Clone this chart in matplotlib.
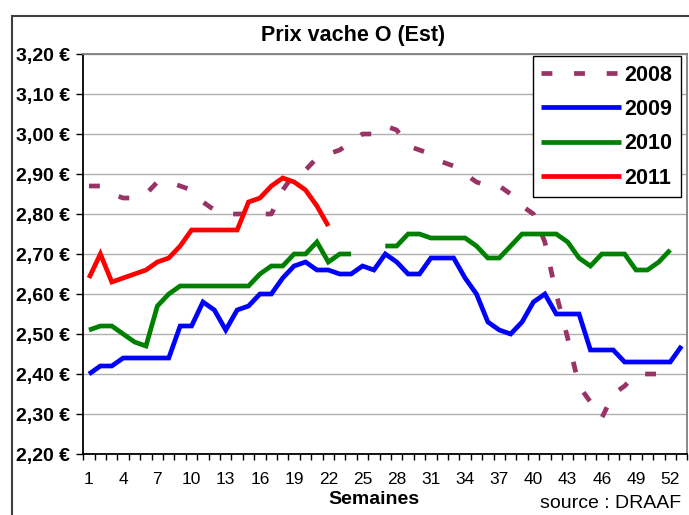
import numpy as np
import matplotlib
matplotlib.use("Agg")
import matplotlib.pyplot as plt
from matplotlib.ticker import FuncFormatter
from matplotlib.patches import Rectangle

plt.rcParams['font.family'] = ['Liberation Sans', 'DejaVu Sans']

nan = np.nan

# Prix hebdomadaires (EUR/kg), semaines 1..53
prix_2008 = [2.87, 2.87, 2.85, 2.84, 2.84, 2.85, 2.88, 2.88, 2.87, 2.86,
             2.83, 2.81, 2.80, 2.80, 2.80, 2.80, 2.80, 2.86, 2.90, 2.91,
             2.94, 2.95, 2.96, 2.98, 3.00, 3.00, 3.02, 3.01, 2.97, 2.96,
             2.95, 2.93, 2.92, 2.90, 2.88, 2.87, 2.87, 2.85, 2.82, 2.80,
             2.73, 2.60, 2.49, 2.37, 2.33, 2.29, 2.35, 2.37, 2.40, 2.40,
             2.40]
prix_2009 = [2.40, 2.42, 2.42, 2.44, 2.44, 2.44, 2.44, 2.44, 2.52, 2.52,
             2.58, 2.56, 2.51, 2.56, 2.57, 2.60, 2.60, 2.64, 2.67, 2.68,
             2.66, 2.66, 2.65, 2.65, 2.67, 2.66, 2.70, 2.68, 2.65, 2.65,
             2.69, 2.69, 2.69, 2.64, 2.60, 2.53, 2.51, 2.50, 2.53, 2.58,
             2.60, 2.55, 2.55, 2.55, 2.46, 2.46, 2.46, 2.43, 2.43, 2.43,
             2.43, 2.43, 2.47]
prix_2010 = [2.51, 2.52, 2.52, 2.50, 2.48, 2.47, 2.57, 2.60, 2.62, 2.62,
             2.62, 2.62, 2.62, 2.62, 2.62, 2.65, 2.67, 2.67, 2.70, 2.70,
             2.73, 2.68, 2.70, 2.70, nan, nan, 2.72, 2.72, 2.75, 2.75,
             2.74, 2.74, 2.74, 2.74, 2.72, 2.69, 2.69, 2.72, 2.75, 2.75,
             2.75, 2.75, 2.73, 2.69, 2.67, 2.70, 2.70, 2.70, 2.66, 2.66,
             2.68, 2.71]
prix_2011 = [2.64, 2.70, 2.63, 2.64, 2.65, 2.66, 2.68, 2.69, 2.72, 2.76,
             2.76, 2.76, 2.76, 2.76, 2.83, 2.84, 2.87, 2.89, 2.88, 2.86,
             2.82, 2.77]

annees = ['2008', '2009', '2010', '2011']
couleurs = ['#993366', '#0000ff', '#008000', '#ff0000']
tick_semaines = list(range(1, 53, 3))
y_ticks = [2.2, 2.3, 2.4, 2.5, 2.6, 2.7, 2.8, 2.9, 3.0, 3.1, 3.2]

W, H = 689, 515
fig = plt.figure(figsize=(W / 100, H / 100), dpi=100)
ax = fig.add_axes([83.3 / W, 61 / H, 604 / W, 400 / H])

series = [prix_2008, prix_2009, prix_2010, prix_2011]
lw = 3.4
for nom, vals, c in zip(annees, series, couleurs):
    sem = np.arange(1, len(vals) + 1)
    if nom == '2008':
        ax.plot(sem, vals, color=c, lw=lw, linestyle=(0, (2.3, 4.6)),
                dash_capstyle='butt', label=nom)
    else:
        ax.plot(sem, vals, color=c, lw=lw, solid_joinstyle='miter',
                solid_capstyle='butt', label=nom)

ax.set_xlim(0.5, 53.5)
ax.set_ylim(2.2, 3.2)
ax.set_yticks(y_ticks)
ax.yaxis.set_major_formatter(FuncFormatter(lambda v, p: f"{v:.2f} €".replace('.', ',')))
ax.tick_params(axis='y', direction='out', length=5, width=1, pad=4.5,
               labelsize=14)
for t in ax.get_yticklabels():
    t.set_fontweight('bold')

ax.set_xticks(tick_semaines)
ax.set_xticks(np.arange(0.5, 53.6, 1), minor=True)
ax.tick_params(axis='x', which='major', length=0, pad=13, labelsize=12.5)
ax.tick_params(axis='x', which='minor', direction='out', length=4, width=1)

ax.yaxis.grid(True, color='#b0b0b0', lw=1)
ax.set_axisbelow(True)
for s in ['left', 'bottom']:
    ax.spines[s].set_color('black')
    ax.spines[s].set_linewidth(1.3)
for s in ['top', 'right']:
    ax.spines[s].set_color('#808080')
    ax.spines[s].set_linewidth(1.3)

leg = ax.legend(loc='upper left', bbox_to_anchor=(0.744, 0.995),
                prop={'weight': 'bold', 'size': 15.5},
                handlelength=3.7, handletextpad=0.15, labelspacing=0.62,
                borderpad=0.4, borderaxespad=0, fancybox=False,
                edgecolor='black', framealpha=1)
leg.get_frame().set_linewidth(1.0)

fig.text(353 / W, 1 - 35.7 / H, 'Prix vache O (Est)', ha='center', va='center',
         fontsize=15.5, fontweight='bold')
fig.text(374 / W, 1 - 499 / H, 'Semaines', ha='center', va='center',
         fontsize=14, fontweight='bold')
fig.text(540 / W, 1 - 495 / H, 'source : DRAAF', ha='left', va='top',
         fontsize=14)

# cadre du graphique
fig.patches.append(Rectangle((11.7 / W, -0.5), 2, 0.5 + (H - 16) / H,
                             transform=fig.transFigure, fill=False,
                             ec='#404040', lw=1.5))

fig.savefig('out.png', dpi=100)
